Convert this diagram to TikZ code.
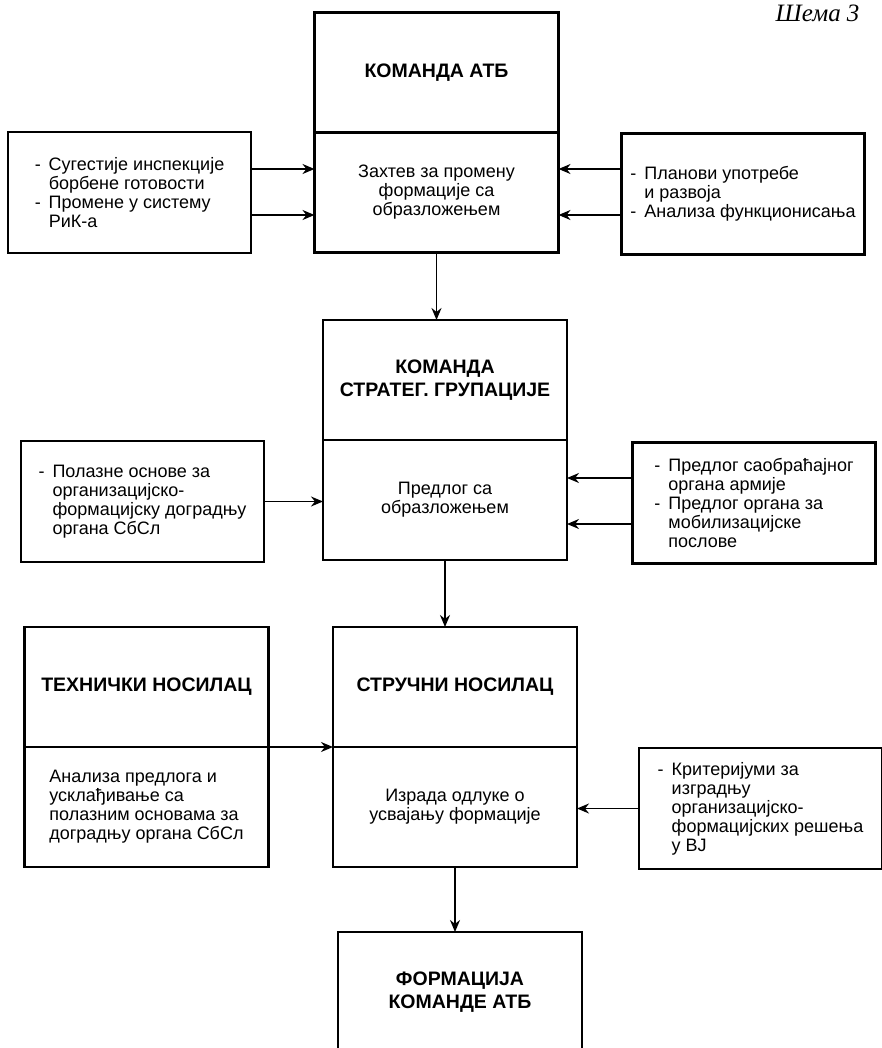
\documentclass[tikz,border=0pt]{standalone}
\usepackage{fontspec}
\setmainfont{Liberation Sans}
\newfontfamily\shemafont{Liberation Serif}
\usetikzlibrary{positioning,arrows.meta}

\newcommand{\dsh}{\makebox[14pt][l]{-}}
\newcommand{\dind}{\hspace*{14pt}}

\tikzset{
  head/.style={draw, line width=2.4pt, outer sep=0pt, minimum width=244pt, minimum height=120pt, align=center, font=\fontsize{19.5}{22.5}\selectfont\bfseries},
  body/.style={draw, line width=2.4pt, outer sep=0pt, minimum width=244pt, minimum height=120pt, align=center, font=\fontsize{18}{19}\selectfont},
  side/.style={draw, line width=2.4pt, outer sep=0pt, minimum width=243pt, minimum height=121pt, align=left, font=\fontsize{18}{19}\selectfont},
  arr/.style={line width=1.5pt, arrows=-{Stealth[length=12pt, width=10pt]}}
}

\begin{document}
\begin{tikzpicture}[x=1pt, y=-1pt]
\useasboundingbox[clip] (0,0) rectangle (882,1048);
\fill[white] (0,0) rectangle (882,1048);
\node (shema) [anchor=east, font=\shemafont\itshape\fontsize{25}{27}\selectfont] at (863,13) {Шема 3};

% komanda atb
\node (atb) [head] at (436.5,72.5) {КОМАНДА АТБ};
\node (zahtev) [body, below=0pt of atb] {Захтев за промену\\формације са\\образложењем};
\node (l1) [side] at (129.5,192.5) {\dsh Сугестије инспекције\\\dind борбене готовости\\\dsh Промене у систему\\\dind РиК-а};
\node (r1) [side] at (743,194) {\dsh Планови употребе\\\dind и развоја\\\dsh Анализа функционисања};

% komanda strateg. grupacije
\node (sg) [head] at (445,380) {КОМАНДА\\СТРАТЕГ. ГРУПАЦИЈЕ};
\node (predlog) [body, below=0pt of sg] {Предлог са\\образложењем};
\node (l2) [side] at (142.5,501.5) {\dsh Полазне основе за\\\dind организацијско-\\\dind формацијску доградњу\\\dind органа СбСл};
\node (r2) [side] at (754,503) {\dsh Предлог саобраћајног\\\dind органа армије\\\dsh Предлог органа за\\\dind мобилизацијске\\\dind послове};

% nosioci
\node (teh) [head] at (146.5,687) {ТЕХНИЧКИ НОСИЛАЦ};
\node (analiza) [body, below=0pt of teh, align=left] {Анализа предлога и\\усклађивање са\\полазним основама за\\доградњу органа СбСл};
\node (struc) [head] at (455,687) {СТРУЧНИ НОСИЛАЦ};
\node (odluka) [body, below=0pt of struc] {Израда одлуке о\\усвајању формације};
\node (r3) [side] at (760.5,808.5) {\dsh Критеријуми за\\\dind изградњу\\\dind организацијско-\\\dind формацијских решења\\\dind у ВЈ};

% formacija
\node (form) [head] at (460,992) {ФОРМАЦИЈА\\КОМАНДЕ АТБ};

\draw[arr] ([yshift=23.5pt]l1.east) -- ([yshift=23.5pt]l1.east -| zahtev.west);
\draw[arr] ([yshift=-22.5pt]l1.east) -- ([yshift=-22.5pt]l1.east -| zahtev.west);
\draw[arr] ([yshift=25pt]r1.west) -- ([yshift=25pt]r1.west -| zahtev.east);
\draw[arr] ([yshift=-21pt]r1.west) -- ([yshift=-21pt]r1.west -| zahtev.east);
\draw[arr] (zahtev.south) -- (zahtev.south |- sg.north);
\draw[arr] (l2.east) -- (l2.east -| predlog.west);
\draw[arr] ([yshift=25pt]r2.west) -- ([yshift=25pt]r2.west -| predlog.east);
\draw[arr] ([yshift=-21pt]r2.west) -- ([yshift=-21pt]r2.west -| predlog.east);
\draw[arr] (predlog.south) -- (predlog.south |- struc.north);
\draw[arr] (teh.south east) -- (teh.south east -| odluka.west);
\draw[arr] (r3.west) -- (r3.west -| odluka.east);
\draw[arr] (odluka.south) -- (odluka.south |- form.north);
\end{tikzpicture}
\end{document}
